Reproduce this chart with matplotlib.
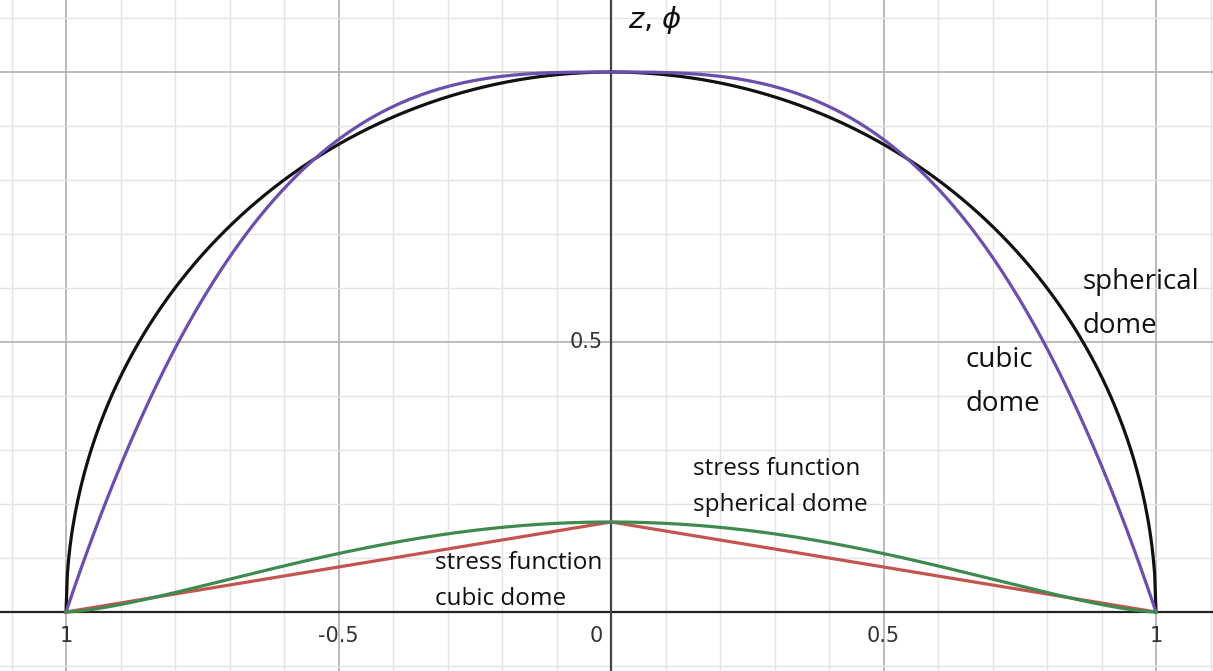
import numpy as np
import matplotlib.pyplot as plt

# curve definitions (dome shapes and stress functions, x in [-1, 1])
X_RANGE = (-1.0, 1.0)
N_PTS = 801
DOME_HEIGHT = 1.0
STRESS_PEAK = 1.0 / 6.0
CUBIC_EXP = 3
SPHERE_STRESS_EXP = 1.5

XTICKS = [-1, -0.5, 0, 0.5, 1]
XTICK_LABELS = ['1', '-0.5', '0', '0.5', '1']
YTICKS = [0.5]
YTICK_LABELS = ['0.5']

BLACK = '#111111'
PURPLE = '#6a4fae'
GREEN = '#3f8a4f'
RED = '#c4544f'

x = np.linspace(X_RANGE[0], X_RANGE[1], N_PTS)
sphere = DOME_HEIGHT * np.sqrt(np.clip(1 - x**2, 0, None))
cubic = DOME_HEIGHT * (1 - np.abs(x)**CUBIC_EXP)
stress_cubic = STRESS_PEAK * (1 - np.abs(x))
stress_sphere = STRESS_PEAK * np.clip(1 - x**2, 0, None)**SPHERE_STRESS_EXP

fig = plt.figure(figsize=(12.13, 6.71), dpi=100)
ax = fig.add_axes([0, 0, 1, 1])
ax.set_xlim(-611/545, (1213-611)/545)
ax.set_ylim(-(671-612)/540, 612/540)
for s in ax.spines.values():
    s.set_visible(False)
ax.set_xticks([])
ax.set_yticks([])

# grid: light lines every 0.1, darker every 0.5
for v in np.arange(-1.1, 1.11, 0.1):
    v = round(v, 1)
    major = abs(v*2 - round(v*2)) < 1e-9
    ax.axvline(v, color='#b5b5b5' if major else '#e4e4e4', lw=1.3 if major else 1.0, zorder=0)
for v in np.arange(-0.1, 1.15, 0.1):
    v = round(v, 1)
    major = abs(v*2 - round(v*2)) < 1e-9
    ax.axhline(v, color='#b5b5b5' if major else '#e4e4e4', lw=1.3 if major else 1.0, zorder=0)
ax.axhline(0, color='#222222', lw=1.6, zorder=1)
ax.axvline(0, color='#444444', lw=1.6, zorder=1)

ax.plot(x, sphere, color=BLACK, lw=2.3, zorder=3)
ax.plot(x, cubic, color=PURPLE, lw=2.3, zorder=3)
ax.plot(x, stress_cubic, color=RED, lw=2.3, zorder=3)
ax.plot(x, stress_sphere, color=GREEN, lw=2.3, zorder=4)

for t, lab in zip(XTICKS, XTICK_LABELS):
    ax.text(t + (-0.027 if t == 0 else 0), -0.045, lab, ha='center', va='center',
            fontsize=15, color='#333333', family='DejaVu Sans')
for t, lab in zip(YTICKS, YTICK_LABELS):
    ax.text(-0.016, t, lab, ha='right', va='center',
            fontsize=15, color='#333333', family='DejaVu Sans')

big = dict(family='Open Sans', fontsize=20, color='#111111', linespacing=1.75)
small = dict(family='Open Sans', fontsize=17.5, color='#111111', linespacing=1.65)
ax.text(0.031, 1.096, r'$z$, $\phi$', fontsize=21, color='#111111', va='center', ha='left')
ax.text(0.866, 0.570, 'spherical\ndome', ha='left', va='center', **big)
ax.text(0.650, 0.426, 'cubic\ndome', ha='left', va='center', **big)
ax.text(0.150, 0.231, 'stress function\nspherical dome', ha='left', va='center', **small)
ax.text(-0.323, 0.057, 'stress function\ncubic dome', ha='left', va='center', **small)

fig.savefig('out.png', dpi=100)
